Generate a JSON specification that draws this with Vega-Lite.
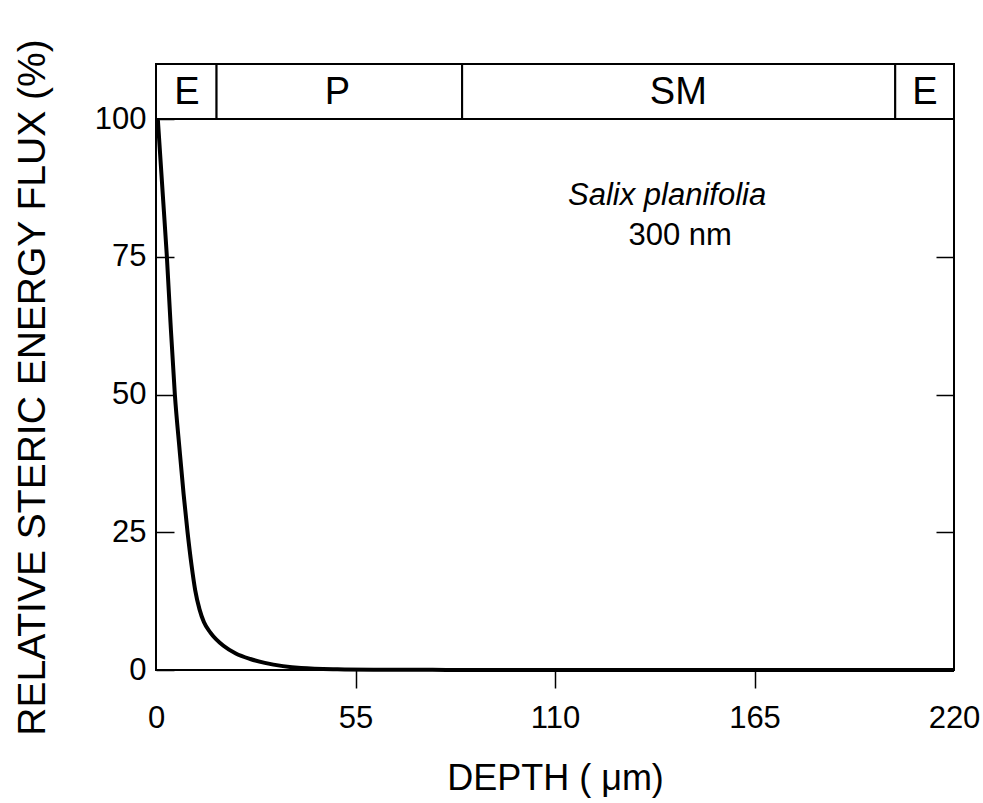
{
  "$schema": "https://vega.github.io/schema/vega-lite/v6.json",
  "width": 798,
  "height": 606,
  "autosize": {"type": "none"},
  "padding": {"left": 156, "top": 64, "right": 29, "bottom": 133},
  "background": "white",
  "config": {
    "view": {"stroke": "black", "strokeWidth": 2},
    "font": "Liberation Sans",
    "axis": {"grid": false, "domain": false, "tickColor": "black", "tickWidth": 1.5, "labelColor": "black", "titleColor": "black", "titleFontWeight": "normal", "labelFont": "Liberation Sans", "titleFont": "Liberation Sans"}
  },
  "resolve": {"axis": {"y": "independent"}},
  "layer": [
    {
      "data": {"values": [
        {"depth": 0.5, "flux": 100},
        {"depth": 2, "flux": 85},
        {"depth": 3, "flux": 75},
        {"depth": 4, "flux": 63},
        {"depth": 5.2, "flux": 50},
        {"depth": 6.5, "flux": 40},
        {"depth": 7.6, "flux": 32},
        {"depth": 8.7, "flux": 25},
        {"depth": 9.8, "flux": 19},
        {"depth": 10.8, "flux": 14.5},
        {"depth": 12, "flux": 11},
        {"depth": 13.2, "flux": 8.7},
        {"depth": 15, "flux": 6.8},
        {"depth": 18.6, "flux": 4.4},
        {"depth": 22, "flux": 3.0},
        {"depth": 26, "flux": 2.0},
        {"depth": 30, "flux": 1.3},
        {"depth": 35, "flux": 0.7},
        {"depth": 40, "flux": 0.35},
        {"depth": 50, "flux": 0.12},
        {"depth": 60, "flux": 0.05},
        {"depth": 80, "flux": 0.02},
        {"depth": 120, "flux": 0},
        {"depth": 220, "flux": 0}
      ]},
      "mark": {"type": "line", "color": "black", "strokeWidth": 4, "interpolate": "monotone"},
      "encoding": {
        "x": {
          "field": "depth", "type": "quantitative",
          "scale": {"domain": [0, 220], "nice": false},
          "axis": {
            "orient": "bottom",
            "values": [0, 55, 110, 165, 220],
            "tickSize": 18,
            "tickOpacity": {"condition": {"test": "datum.value == 0 || datum.value == 220", "value": 0}, "value": 1},
            "labelFontSize": 31,
            "labelPadding": 15,
            "labelFlush": false,
            "labelOverlap": false,
            "title": "DEPTH ( μm)",
            "titleFontSize": 36,
            "titleBaseline": "alphabetic",
            "titleY": 119
          }
        },
        "y": {
          "field": "flux", "type": "quantitative",
          "scale": {"domain": [0, 110], "nice": false},
          "axis": {
            "orient": "left",
            "values": [0, 25, 50, 75, 100],
            "tickSize": -18,
            "labelFontSize": 31,
            "labelPadding": 28,
            "labelOverlap": false,
            "title": "RELATIVE STERIC ENERGY FLUX (%)",
            "titleFontSize": 39,
            "titleBaseline": "alphabetic",
            "titleAngle": 270,
            "titleX": -112,
            "titleY": 323
          }
        }
      }
    },
    {
      "data": {"values": [
        {"start": 0, "end": 16.7, "layer": "E"},
        {"start": 16.7, "end": 84.4, "layer": "P"},
        {"start": 84.4, "end": 203.8, "layer": "SM"},
        {"start": 203.8, "end": 220, "layer": "E"}
      ]},
      "mark": {"type": "rect", "fill": "white", "stroke": "black", "strokeWidth": 2},
      "encoding": {
        "x": {"field": "start", "type": "quantitative"},
        "x2": {"field": "end"},
        "y": {
          "datum": 100, "type": "quantitative",
          "axis": {
            "orient": "right",
            "values": [25, 50, 75],
            "tickSize": -18,
            "labels": false,
            "title": null
          }
        },
        "y2": {"datum": 110}
      }
    },
    {
      "data": {"values": [
        {"mid": 8.5, "layer": "E"},
        {"mid": 50, "layer": "P"},
        {"mid": 144, "layer": "SM"},
        {"mid": 212, "layer": "E"}
      ]},
      "mark": {"type": "text", "fontSize": 38, "color": "black", "baseline": "alphabetic", "align": "center"},
      "encoding": {
        "x": {"field": "mid", "type": "quantitative"},
        "y": {"datum": 102.7, "type": "quantitative", "axis": null},
        "text": {"field": "layer"}
      }
    },
    {
      "data": {"values": [
        {"x": 140.9, "y": 84.4, "label": "Salix planifolia"}
      ]},
      "mark": {"type": "text", "fontSize": 31, "fontStyle": "italic", "color": "black", "baseline": "alphabetic", "align": "center"},
      "encoding": {
        "x": {"field": "x", "type": "quantitative"},
        "y": {"field": "y", "type": "quantitative", "axis": null},
        "text": {"field": "label"}
      }
    },
    {
      "data": {"values": [
        {"x": 144.5, "y": 77.1, "label": "300 nm"}
      ]},
      "mark": {"type": "text", "fontSize": 31, "color": "black", "baseline": "alphabetic", "align": "center"},
      "encoding": {
        "x": {"field": "x", "type": "quantitative"},
        "y": {"field": "y", "type": "quantitative", "axis": null},
        "text": {"field": "label"}
      }
    }
  ]
}
